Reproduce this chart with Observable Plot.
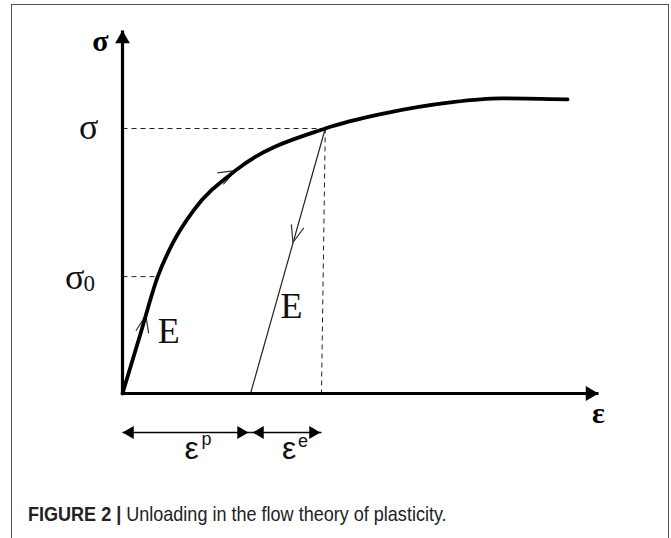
<!DOCTYPE html>
<html>
<head>
<meta charset="utf-8">
<script src="https://cdn.jsdelivr.net/npm/d3@7"></script>
<script src="https://cdn.jsdelivr.net/npm/@observablehq/plot@0.6"></script>
<style>
  html, body { margin: 0; padding: 0; background: #fff; }
  #wrap { position: relative; width: 671px; height: 538px; overflow: hidden; }
  #frame { position: absolute; left: 11px; top: 4px; width: 658px; height: 600px;
           border: 1.5px solid #555; border-bottom: none; box-sizing: border-box; }
  #chart { position: absolute; left: 0; top: 0; }
  #cap { position: absolute; left: 0; top: 490px; }
</style>
</head>
<body>
<div id="wrap">
  <div id="frame"></div>
  <div id="chart"></div>
  <div id="cap"></div>
</div>
<script>
// ---- data (strain ε, stress σ in arbitrary units) ----
const loadStrain = [0, 0.37, 0.74, 1.05, 1.49, 2.37, 4.26, 5.48, 6.89, 7.94, 9.35];
const loadStress = [0, 1.61, 3.22, 4.13, 5.04, 6.14, 7.30, 7.71, 8.02, 8.13, 8.10];
const sigma0 = 3.22;        // initial yield stress
const sigmaY = 7.30;        // current stress σ
const epsAtSigma = 4.26;    // strain on curve at σ
const epsPlastic = 2.69;    // εp (unloaded residual strain)
const epsTotal = 4.18;      // εp + εe (dashed foot)
const axisMaxX = 10;
const axisMaxY = 10;
const chevronX = [0.49, 2.37, 3.58];
const chevronY = [2.15, 6.14, 4.16];
const modulusLabelX = [0.97, 3.55];
const modulusLabelY = [1.71, 2.40];
const captionBold = "FIGURE 2 |";
const captionText = " Unloading in the flow theory of plasticity.";

const curve = loadStrain.map((x, i) => ({x, y: loadStress[i]}));
const guides = [
  {x1: 0, y1: sigmaY, x2: epsAtSigma, y2: sigmaY},
  {x1: 0, y1: sigma0, x2: loadStrain[2], y2: sigma0},
  {x1: epsAtSigma, y1: sigmaY, x2: epsTotal, y2: 0}
];
const unload = [{x1: epsAtSigma, y1: sigmaY, x2: epsPlastic, y2: 0}];
const axes = [{x1: 0, y1: 0, x2: 0, y2: axisMaxY}, {x1: 0, y1: 0, x2: axisMaxX, y2: 0}];
const dims = [{x1: 0, x2: epsPlastic}, {x1: epsPlastic, x2: epsTotal}];
const chev = chevronX.map((x, i) => ({x, y: chevronY[i]}));
const eLabels = modulusLabelX.map((x, i) => ({x, y: modulusLabelY[i], t: "E"}));

// open chevron symbol: tip at origin, arms pointing back (down)
const chevronSymbol = {
  draw(ctx) {
    ctx.moveTo(-6.5, 17);
    ctx.lineTo(0, 0);
    ctx.lineTo(6.5, 17);
  }
};

const serif = "Liberation Serif, Times New Roman, serif";
const sans = "Liberation Sans, Arial, sans-serif";

const chart = Plot.plot({
  width: 671,
  height: 490,
  marginLeft: 122,
  marginRight: 73,
  marginTop: 30,
  marginBottom: 97,
  x: {domain: [0, axisMaxX], axis: null},
  y: {domain: [0, axisMaxY], axis: null},
  style: {background: "transparent", overflow: "visible"},
  marks: [
    Plot.link(guides, {x1: "x1", y1: "y1", x2: "x2", y2: "y2", stroke: "#222", strokeWidth: 1, strokeDasharray: "5,4"}),
    Plot.link(unload, {x1: "x1", y1: "y1", x2: "x2", y2: "y2", stroke: "#222", strokeWidth: 1.2}),
    Plot.dot([chev[0]], {x: "x", y: "y", symbol: chevronSymbol, fill: "none", stroke: "#333", strokeWidth: 1.2, rotate: 12}),
    Plot.dot([chev[1]], {x: "x", y: "y", symbol: chevronSymbol, fill: "none", stroke: "#333", strokeWidth: 1.2, rotate: 62}),
    Plot.dot([chev[2]], {x: "x", y: "y", symbol: chevronSymbol, fill: "none", stroke: "#333", strokeWidth: 1.2, rotate: 196}),
    Plot.line(curve, {x: "x", y: "y", curve: "monotone-x", stroke: "#000", strokeWidth: 3.8}),
    // axes
    Plot.link(axes, {x1: "x1", y1: "y1", x2: "x2", y2: "y2", stroke: "#000", strokeWidth: 3.2}),
    Plot.dot([{x: 0, y: axisMaxY}], {x: "x", y: "y", symbol: "triangle", r: 5.5, fill: "#000", stroke: "none", dy: 8.5}),
    Plot.dot([{x: axisMaxX, y: 0}], {x: "x", y: "y", symbol: "triangle", r: 5.5, fill: "#000", stroke: "none", rotate: 90, dx: -8.5}),
    // dimension arrows below axis
    Plot.link(dims, {x1: "x1", x2: "x2", y1: () => 0, y2: () => 0, dy: 39, stroke: "#000", strokeWidth: 1.4}),
    Plot.dot([{x: 0, y: 0}], {x: "x", y: "y", symbol: "triangle", r: 4.8, fill: "#000", stroke: "none", rotate: -90, dx: 7.5, dy: 39}),
    Plot.dot([{x: epsPlastic, y: 0}], {x: "x", y: "y", symbol: "triangle", r: 4.8, fill: "#000", stroke: "none", rotate: 90, dx: -9.5, dy: 39}),
    Plot.dot([{x: epsPlastic, y: 0}], {x: "x", y: "y", symbol: "triangle", r: 4.8, fill: "#000", stroke: "none", rotate: -90, dx: 9.5, dy: 39}),
    Plot.dot([{x: epsTotal, y: 0}], {x: "x", y: "y", symbol: "triangle", r: 4.8, fill: "#000", stroke: "none", rotate: 90, dx: -8.5, dy: 39}),
    // axis labels
    Plot.text([{x: 0, y: axisMaxY, t: "σ"}], {x: "x", y: "y", text: "t", dx: -22, dy: 11, fontFamily: serif, fontWeight: "bold", fontSize: 30, fill: "#000"}),
    Plot.text([{x: axisMaxX, y: 0, t: "ε"}], {x: "x", y: "y", text: "t", dx: 0, dy: 20, fontFamily: serif, fontWeight: "bold", fontSize: 30, fill: "#000"}),
    // stress tick labels
    Plot.text([{x: 0, y: sigmaY, t: "σ"}], {x: "x", y: "y", text: "t", textAnchor: "end", dx: -24, dy: -1, fontFamily: serif, fontSize: 36, fill: "#111"}),
    Plot.text([{x: 0, y: sigma0, t: "σ"}], {x: "x", y: "y", text: "t", textAnchor: "end", dx: -38, dy: 1, fontFamily: serif, fontSize: 36, fill: "#111"}),
    Plot.text([{x: 0, y: sigma0, t: "0"}], {x: "x", y: "y", text: "t", textAnchor: "start", dx: -39, dy: 7, fontFamily: serif, fontSize: 23, fill: "#111"}),
    // modulus labels
    Plot.text(eLabels, {x: "x", y: "y", text: "t", fontFamily: serif, fontSize: 36, fill: "#111"}),
    // strain part labels
    Plot.text([{x: epsPlastic / 2, y: 0, t: "ε"}], {x: "x", y: "y", text: "t", textAnchor: "start", dx: -2, dy: 55, fontFamily: sans, fontSize: 32, fill: "#111"}),
    Plot.text([{x: epsPlastic / 2, y: 0, t: "p"}], {x: "x", y: "y", text: "t", textAnchor: "start", dx: 15, dy: 46, fontFamily: sans, fontSize: 18, fill: "#111"}),
    Plot.text([{x: (epsPlastic + epsTotal) / 2, y: 0, t: "ε"}], {x: "x", y: "y", text: "t", textAnchor: "start", dx: -4, dy: 55, fontFamily: sans, fontSize: 32, fill: "#111"}),
    Plot.text([{x: (epsPlastic + epsTotal) / 2, y: 0, t: "e"}], {x: "x", y: "y", text: "t", textAnchor: "start", dx: 12, dy: 48, fontFamily: sans, fontSize: 18, fill: "#111"})
  ]
});
document.getElementById("chart").appendChild(chart);

// caption
const capSvg = d3.select("#cap").append("svg").attr("width", 671).attr("height", 48);
const capText = capSvg.append("text")
  .attr("x", 0).attr("y", 31)
  .attr("font-family", sans).attr("font-size", 20).attr("fill", "#222");
capText.append("tspan").attr("font-weight", "bold").text(captionBold);
capText.append("tspan").text(captionText);
const w = capText.node().getComputedTextLength();
capText.attr("transform", `translate(28,0) scale(${419 / w},1)`);
</script>
</body>
</html>
